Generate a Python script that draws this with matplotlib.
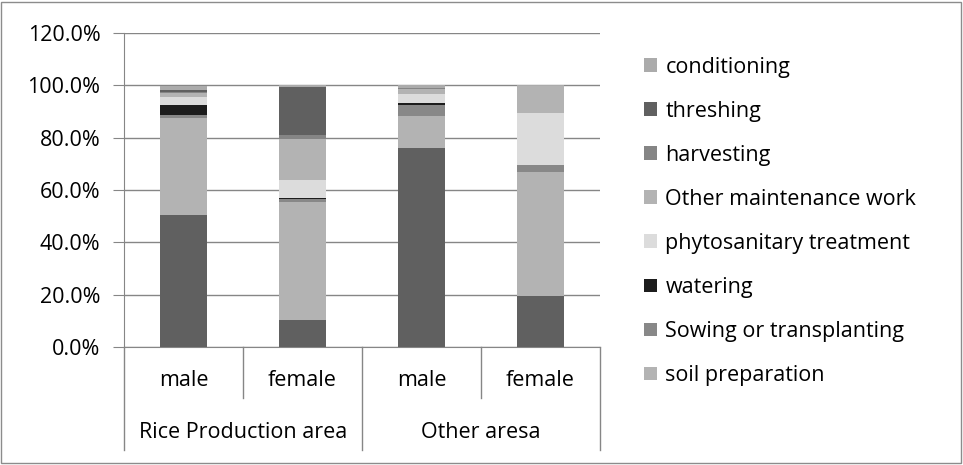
import matplotlib
matplotlib.use("Agg")
from matplotlib import pyplot as plt
from matplotlib.patches import Rectangle, Patch
from matplotlib.ticker import PercentFormatter
import matplotlib.transforms as mtransforms
import numpy as np

plt.rcParams['font.family'] = ['Open Sans', 'DejaVu Sans']

# 데이터 (percent, bottom -> top)
bars = ['male', 'female', 'male', 'female']
groups = ['Rice Production area', 'Other aresa']

unlabelled = [50.3, 10.2, 76.1, 19.5]          # bottom dark segment, no legend entry
soil_preparation = [37.2, 45.2, 12.1, 47.4]
sowing_or_transplanting = [1.0, 1.0, 4.4, 2.5]
watering = [3.8, 0.5, 0.8, 0.0]
phytosanitary_treatment = [3.2, 6.8, 3.4, 20.2]
other_maintenance_work = [1.5, 15.9, 1.9, 10.1]
harvesting = [0.5, 1.3, 0.3, 0.0]
threshing = [0.7, 18.5, 0.0, 0.0]
conditioning = [1.7, 0.6, 1.0, 0.3]

series = [
    ('_nolegend_', unlabelled, '#606060'),
    ('soil preparation', soil_preparation, '#b3b3b3'),
    ('Sowing or transplanting', sowing_or_transplanting, '#888888'),
    ('watering', watering, '#1d1d1d'),
    ('phytosanitary treatment', phytosanitary_treatment, '#dcdcdc'),
    ('Other maintenance work', other_maintenance_work, '#b3b3b3'),
    ('harvesting', harvesting, '#858585'),
    ('threshing', threshing, '#606060'),
    ('conditioning', conditioning, '#ababab'),
]

FS = 15.5
W, H = 963, 465
fig = plt.figure(figsize=(W / 100, H / 100), dpi=100)
ax = fig.add_axes([124 / W, (H - 347) / H, (600 - 124) / W, (347 - 33) / H])

x = np.arange(len(bars))
bottom = np.zeros(len(bars))
handles = []
for name, vals, col in series:
    ax.bar(x, vals, 0.395, bottom=bottom, color=col, linewidth=0, zorder=3)
    bottom += np.array(vals)
    if name != '_nolegend_':
        handles.append(Patch(facecolor=col, label=name))

grid_col = '#868686'
ax.set_xlim(-0.5, 3.5)
ax.set_ylim(0, 120)
ax.set_yticks(np.arange(0, 121, 20))
ax.yaxis.set_major_formatter(PercentFormatter(xmax=100, decimals=1))
ax.grid(axis='y', color=grid_col, linewidth=1, zorder=0)
ax.set_xticks([])
for s in ['top', 'right']:
    ax.spines[s].set_visible(False)
ax.spines['left'].set_color(grid_col)
ax.spines['bottom'].set_color(grid_col)
ax.tick_params(axis='y', length=8, color=grid_col, labelsize=FS, pad=9, labelcolor='black')

# two level category axis
tr = mtransforms.blended_transform_factory(ax.transData, ax.transAxes)
ax_h = 347 - 33
for b in [0.5, 2.5]:
    ax.plot([b, b], [0, -(398 - 347) / ax_h], color=grid_col, lw=1, transform=tr, clip_on=False)
for b in [-0.5, 1.5, 3.5]:
    ax.plot([b, b], [0, -(450 - 347) / ax_h], color=grid_col, lw=1, transform=tr, clip_on=False)
for i, lab in enumerate(bars):
    ax.text(i, -(381 - 347) / ax_h, lab, transform=tr, ha='center', va='center', fontsize=FS)
for g, lab in enumerate(groups):
    ax.text(2 * g + 0.5, -(433 - 347) / ax_h, lab, transform=tr, ha='center', va='center', fontsize=FS)

fig.legend(handles=handles[::-1], loc='upper left', bbox_to_anchor=(633 / W, 1 - 46 / H),
           frameon=False, fontsize=FS, handlelength=0.6, handleheight=0.6,
           handletextpad=0.4, labelspacing=1.07, borderpad=0)

fig.patches.append(Rectangle((1 / W, 2 / H), 960 / W, 461 / H, transform=fig.transFigure,
                             fill=False, edgecolor='#8c8c8c', linewidth=1))

fig.savefig('out.png', dpi=100)
